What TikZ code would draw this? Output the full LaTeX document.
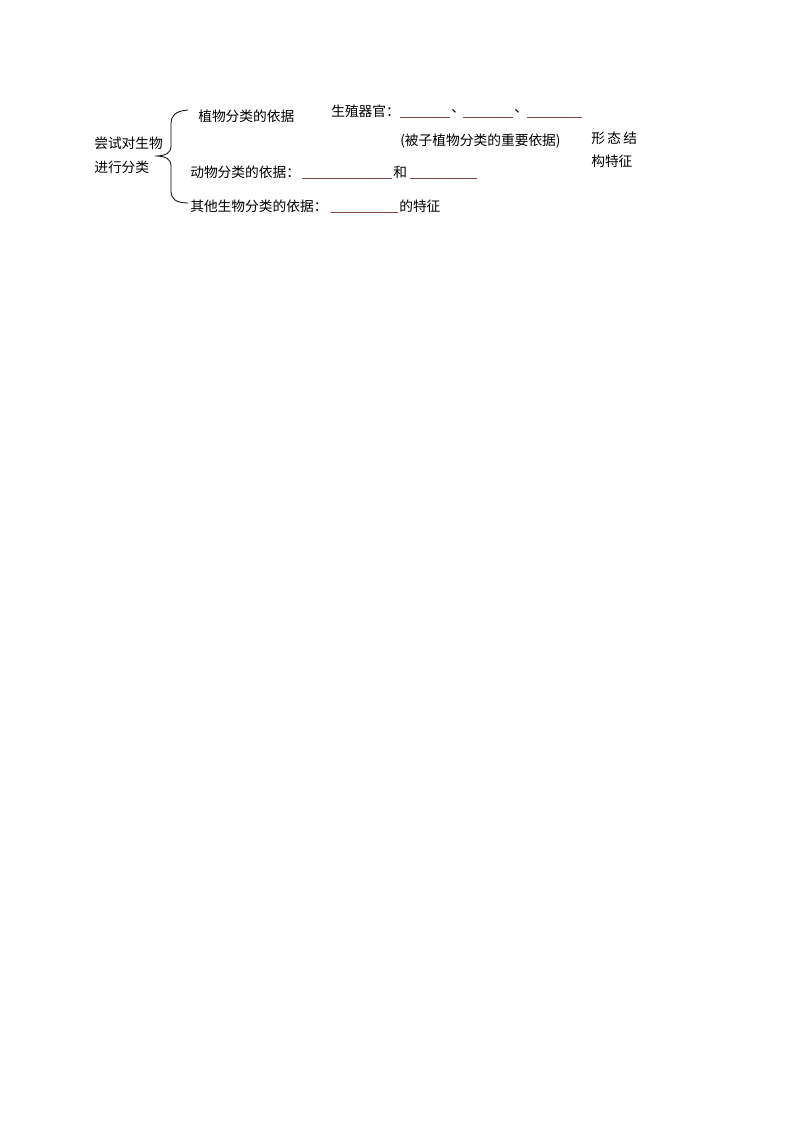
\documentclass[tikz,border=0pt]{standalone}
\usepackage{fontspec}
\setmainfont{Noto Sans CJK SC}
\begin{document}
\begin{tikzpicture}[x=0.75pt,y=-0.75pt,
  txt/.style={anchor=west,inner sep=0pt,font=\fontsize{10.3pt}{12pt}\selectfont},
  blank/.style={draw=blankred,line width=0.6pt},
  bracel/.style={draw=black,line width=0.6pt}]
\definecolor{blankred}{RGB}{128,70,70}
\useasboundingbox (0,0) rectangle (794,1123);
% left label
\node[txt] (l1) at (94,143) {尝试对生物};
\node[txt] (l2) at (94,167) {进行分类};
% brace
\coordinate (btop) at (188,110);
\coordinate (btip) at (155,156);
\coordinate (bbot) at (188,203);
\draw[bracel] (btop) .. controls (176,111) and (171,115) .. (171,124)
  -- (171,146) .. controls (171,153) and (166,156) .. (btip)
  .. controls (166,156) and (171,159) .. (171,166)
  -- (171,191) .. controls (171,199) and (176,203) .. (bbot);
% plants
\node[txt] (p) at (198,116) {植物分类的依据};
\node[txt] (sz) at (331,111) {生殖器官：};
\coordinate (a1) at (400,117.5); \coordinate (a2) at (450,117.5);
\draw[blank] (a1) -- (a2);
\node[txt] (d1) at (451,111) {、};
\coordinate (b1) at (463,117.5); \coordinate (b2) at (513,117.5);
\draw[blank] (b1) -- (b2);
\node[txt] (d2) at (514,111) {、};
\coordinate (c1) at (527,117.5); \coordinate (c2) at (582,117.5);
\draw[blank] (c1) -- (c2);
\node[txt] (bz) at (400,141) {(被子植物分类的重要依据)};
\node[txt] (x1) at (591,138) {形\,态\,结};
\node[txt] (x2) at (591,161) {构特征};
% animals
\node[txt] (an) at (190,172) {动物分类的依据：};
\coordinate (e1) at (302,178); \coordinate (e2) at (392,178);
\draw[blank] (e1) -- (e2);
\node[txt] (he) at (393,172) {和};
\coordinate (f1) at (410,178); \coordinate (f2) at (477,178);
\draw[blank] (f1) -- (f2);
% others
\node[txt] (ot) at (190,206) {其他生物分类的依据：};
\coordinate (g1) at (331,212); \coordinate (g2) at (398,212);
\draw[blank] (g1) -- (g2);
\node[txt] (tz) at (399,206) {的特征};
\end{tikzpicture}
\end{document}
